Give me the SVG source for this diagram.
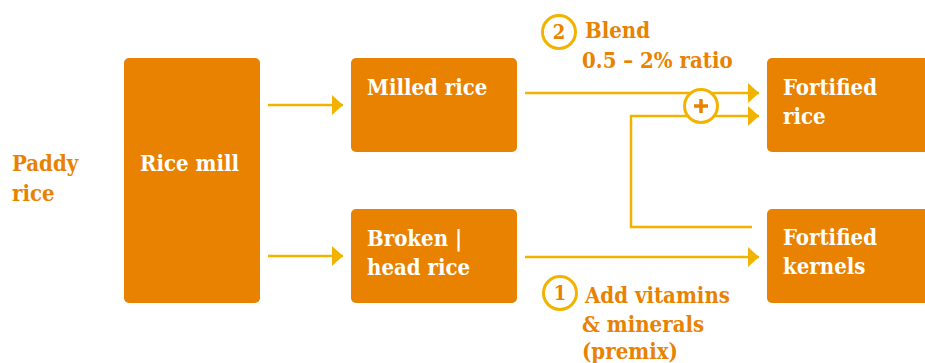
<svg xmlns="http://www.w3.org/2000/svg" width="925" height="363" viewBox="0 0 925 363">
<defs>
<style>
.box{fill:#E88200;}
.t{font-family:"DejaVu Serif","Liberation Serif",serif;font-weight:bold;font-stretch:condensed;font-size:22px;}
.w{fill:#FFFFFF;}
.o{fill:#E88200;}
.ln{fill:none;stroke:#F2B300;stroke-width:2.5;}
.ring{fill:#FFFFFF;stroke:#F2B300;stroke-width:3;}
.num{font-family:"DejaVu Serif","Liberation Serif",serif;font-weight:bold;font-stretch:condensed;font-size:20px;fill:#E88200;text-anchor:middle;}
</style>
<marker id="ah" markerWidth="11" markerHeight="20" refX="11" refY="10" orient="auto" markerUnits="userSpaceOnUse">
<path d="M0,0 L11,10 L0,20 Z" fill="#F2B300"/>
</marker>
</defs>
<rect width="925" height="363" fill="#FFFFFF"/>
<g id="connectors">
<line class="ln" x1="268" y1="105" x2="343" y2="105" marker-end="url(#ah)"/>
<line class="ln" x1="268" y1="256" x2="343" y2="256" marker-end="url(#ah)"/>
<line class="ln" x1="525" y1="93" x2="759" y2="93" marker-end="url(#ah)"/>
<line class="ln" x1="525" y1="257" x2="759" y2="257" marker-end="url(#ah)"/>
<polyline class="ln" points="752,227 631,227 631,116 759,116" marker-end="url(#ah)"/>
</g>
<g id="paddy-rice">
<text class="t o" x="12" y="171">Paddy</text>
<text class="t o" x="12" y="201">rice</text>
</g>
<g id="rice-mill">
<rect class="box" x="124" y="58" width="136" height="245" rx="5"/>
<text class="t w" x="140" y="171">Rice mill</text>
</g>
<g id="milled-rice">
<rect class="box" x="351" y="58" width="166" height="94" rx="5"/>
<text class="t w" x="367" y="95">Milled rice</text>
</g>
<g id="broken-rice">
<rect class="box" x="351" y="209" width="166" height="94" rx="5"/>
<text class="t w" x="367" y="246">Broken |</text>
<text class="t w" x="367" y="275">head rice</text>
</g>
<g id="fortified-rice">
<rect class="box" x="767" y="58" width="170" height="94" rx="5"/>
<text class="t w" x="783" y="95">Fortified</text>
<text class="t w" x="783" y="124">rice</text>
</g>
<g id="fortified-kernels">
<rect class="box" x="767" y="209" width="170" height="94" rx="5"/>
<text class="t w" x="783" y="245">Fortified</text>
<text class="t w" x="783" y="274">kernels</text>
</g>
<g id="plus">
<circle class="ring" cx="701" cy="106" r="16.5"/>
<path d="M694,106 H708 M701,99 V113" stroke="#E88200" stroke-width="3.5" fill="none"/>
</g>
<g id="step-2">
<circle class="ring" cx="559" cy="32" r="16.5"/>
<text class="num" x="559" y="39">2</text>
<text class="t o" x="585" y="38">Blend</text>
<text class="t o" x="582" y="68">0.5 – 2% ratio</text>
</g>
<g id="step-1">
<circle class="ring" cx="560" cy="293" r="16.5"/>
<text class="num" x="560" y="300">1</text>
<text class="t o" x="585" y="303">Add vitamins</text>
<text class="t o" x="582" y="332">&amp; minerals</text>
<text class="t o" x="582" y="359">(premix)</text>
</g>
</svg>
